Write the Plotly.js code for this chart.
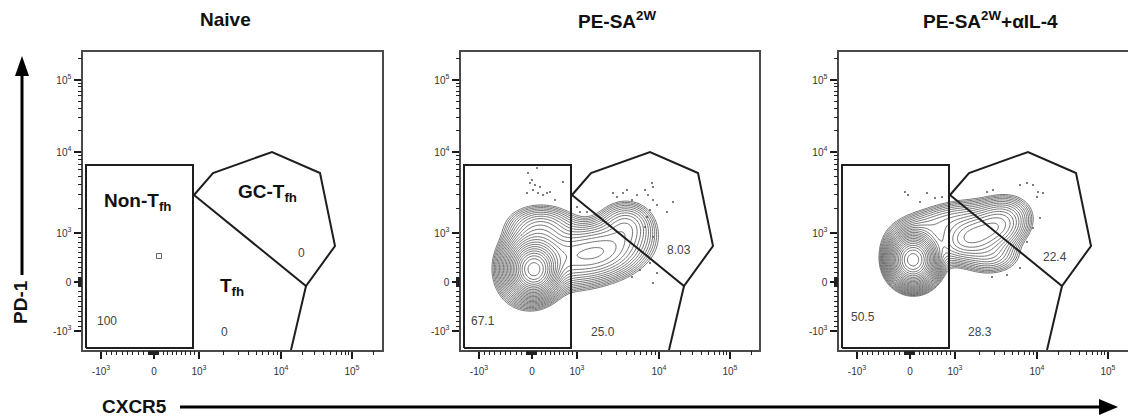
<!DOCTYPE html>
<html><head><meta charset="utf-8">
<script src="https://cdn.plot.ly/plotly-3.0.1.min.js"></script>
<style>html,body{margin:0;padding:0;background:#fff}#chart{width:1128px;height:419px}</style>
</head><body><div id="chart"></div><script>
// ---------- text ----------
const panelTitles = ['Naive', 'PE-SA<sup>2W</sup>', 'PE-SA<sup>2W</sup>+αIL-4'];
const gateNames = ['Non-T<sub>fh</sub>', 'GC-T<sub>fh</sub>', 'T<sub>fh</sub>'];
const nonTfhPct = ['100', '67.1', '50.5'];
const tfhPct = ['0', '25.0', '28.3'];
const gcTfhPct = ['0', '8.03', '22.4'];
const xAxisName = 'CXCR5';
const yAxisName = 'PD-1';

// ---------- biexponential axis (raw value -> scale units) ----------
const majorTickValues = [-1000, 0, 1000, 10000, 100000];
const majorTickText = ['-10<sup>3</sup>', '0', '10<sup>3</sup>', '10<sup>4</sup>', '10<sup>5</sup>'];
const xTickScale = [18, 71, 116, 198, 269];
const yTickScale = [19, 68, 117, 198, 270];
const minorTickValues = [-900,-800,-700,-600,-500,-400,-300,-200,-100,-90,-80,-70,-60,-50,-40,-30,-20,-10,
  10,20,30,40,50,60,70,80,90,100,200,300,400,500,600,700,800,900,
  2000,3000,4000,5000,6000,7000,8000,9000,20000,30000,40000,50000,60000,70000,80000,90000,200000];

// ---------- gates (scale units) ----------
const nonTfhGateX = [3, 110, 110, 3, 3];
const nonTfhGateY = [2, 2, 185, 185, 2];
const gcTfhGateX = [111, 130, 189, 237, 252, 223, 111];
const gcTfhGateY = [155, 177, 198, 177, 104, 64, 155];
const tfhGateX = [223, 208];
const tfhGateY = [64, 0];

// ---------- events ----------
const naiveEventX = [76];
const naiveEventY = [94];

// PE-SA2W populations (scale units): centre, spread, correlation, relative peak
const pop2Mx = [73, 72, 138, 165, 80, 105];
const pop2My = [80, 86, 98, 125, 124, 95];
const pop2Sx = [10, 15, 24, 14, 18, 18];
const pop2Sy = [11, 17, 15, 12, 11, 16];
const pop2Rho = [0, 0.1, 0.25, 0, 0, 0];
const pop2W = [1, 0.3, 0.12, 0.05, 0.04, 0.05];
const out2X = [67,69,72,76,77,79,86,89,102,66,71,74,82,94,152,156,162,171,176,184,187,191,192,192,196,189,186,184,192,189,196,192,212,206,166,119,126,116,171,179];
const out2Y = [177,167,160,182,157,163,157,158,168,157,170,165,155,150,157,153,157,150,155,160,155,167,163,150,145,140,133,123,113,87,77,67,148,138,160,138,138,143,73,80];

// PE-SA2W + aIL-4 populations
const pop3Mx = [74, 76, 131, 160, 105, 150];
const pop3My = [90, 95, 113, 125, 128, 95];
const pop3Sx = [10, 14, 17, 15, 26, 16];
const pop3Sy = [11, 15, 12, 13, 12, 10];
const pop3Rho = [0, 0, 0.3, 0.2, 0.5, 0];
const pop3W = [1, 0.08, 0.1, 0.08, 0.03, 0.03];
const out3X = [69,66,88,96,103,148,154,181,188,194,199,204,198,201,194,188,181,168,153,81];
const out3Y = [155,158,157,152,153,158,160,165,167,165,158,157,153,132,122,108,82,75,73,148];

// ---------- helpers ----------
function toScale(v, a) {
  if (v <= 0) return a[1] + (v / 1000) * (a[1] - a[0]);
  if (v <= 1000) return a[1] + (v / 1000) * (a[2] - a[1]);
  const l = Math.log10(v);
  if (l <= 4) return a[2] + (l - 3) * (a[3] - a[2]);
  return a[3] + (l - 4) * (a[4] - a[3]);
}
function densityGrid(mx, my, sx, sy, rho, w) {
  const xs = [], ys = [];
  for (let x = 0; x <= 300; x += 1.5) xs.push(x);
  for (let y = 0; y <= 300; y += 1.5) ys.push(y);
  let m = 0;
  const z = ys.map(y => xs.map(x => {
    let s = 0;
    for (let i = 0; i < mx.length; i++) {
      const dx = (x - mx[i]) / sx[i], dy = (y - my[i]) / sy[i], r = rho[i];
      s += w[i] * Math.exp(-(dx * dx - 2 * r * dx * dy + dy * dy) / (2 * (1 - r * r)));
    }
    if (s > m) m = s;
    return s;
  }));
  return {xs, ys, z: z.map(row => row.map(v => Math.log10(Math.max(v / m, 1e-9))))};
}

const W = 1128, PLOT_T = 52, PLOT_B = 350;
const px = v => v / W;
const py = v => (PLOT_B - v) / (PLOT_B - PLOT_T);
const fontFam = 'Liberation Sans, Arial, Helvetica, sans-serif';
const gateLine = {color: '#1e1e1e', width: 2};

const domains = [[83 / W, 382 / W], [461 / W, 759 / W], [839 / W, 1]];
const xRanges = [[0, 299], [0, 298], [0, 289]];
const yRange = [0, 298];

const traces = [];
const layout = {
  width: 1128, height: 419, margin: {l: 0, r: 0, t: PLOT_T, b: 419 - PLOT_B},
  paper_bgcolor: '#fff', plot_bgcolor: '#fff', showlegend: false,
  font: {family: fontFam, color: '#222'},
  annotations: [], shapes: []
};

for (let p = 0; p < 3; p++) {
  const xa = p === 0 ? 'x' : 'x' + (p + 1);
  const ya = p === 0 ? 'y' : 'y' + (p + 1);
  const xKey = p === 0 ? 'xaxis' : 'xaxis' + (p + 1);
  const yKey = p === 0 ? 'yaxis' : 'yaxis' + (p + 1);
  const common = {
    showgrid: false, zeroline: false, showline: true, linecolor: '#4a4a4a', linewidth: 1.6,
    ticks: 'outside', ticklen: 7, tickwidth: 1.6, tickcolor: '#1a1a1a',
    tickmode: 'array', ticktext: majorTickText,
    tickfont: {size: 10, color: '#333', family: fontFam},
    fixedrange: true
  };
  layout[xKey] = Object.assign({}, common, {
    domain: domains[p], range: xRanges[p], anchor: ya, mirror: true, ticklabelstandoff: 4,
    tickvals: majorTickValues.map(v => toScale(v, xTickScale))
  });
  layout[yKey] = Object.assign({}, common, {
    domain: [0, 1], range: yRange, anchor: xa, mirror: p < 2, ticklabelstandoff: 1,
    tickvals: majorTickValues.map(v => toScale(v, yTickScale))
  });
  // minor tick overlay axes
  const mxKey = 'xaxis' + (p + 4), myKey = 'yaxis' + (p + 4);
  const minorCommon = {showgrid: false, zeroline: false, showline: false, showticklabels: false,
    ticks: 'outside', ticklen: 4, tickwidth: 1, tickcolor: '#222', tickmode: 'array', fixedrange: true};
  layout[mxKey] = Object.assign({}, minorCommon, {overlaying: xa, anchor: ya, side: 'bottom', domain: domains[p], range: xRanges[p],
    tickvals: minorTickValues.map(v => toScale(v, xTickScale))});
  layout[myKey] = Object.assign({}, minorCommon, {overlaying: ya, anchor: xa, side: 'left', domain: [0, 1], range: yRange,
    tickvals: minorTickValues.map(v => toScale(v, yTickScale))});
  traces.push({type: 'scatter', mode: 'markers', x: [], y: [], xaxis: 'x' + (p + 4), yaxis: 'y' + (p + 4), hoverinfo: 'skip'});

  // events
  if (p === 0) {
    traces.push({type: 'scatter', mode: 'markers', x: naiveEventX, y: naiveEventY, xaxis: xa, yaxis: ya,
      marker: {symbol: 'square-open', size: 5, color: '#666', line: {width: 1}}, hoverinfo: 'skip'});
  } else {
    const g = p === 1 ? densityGrid(pop2Mx, pop2My, pop2Sx, pop2Sy, pop2Rho, pop2W)
                      : densityGrid(pop3Mx, pop3My, pop3Sx, pop3Sy, pop3Rho, pop3W);
    traces.push({type: 'contour', x: g.xs, y: g.ys, z: g.z, xaxis: xa, yaxis: ya, showscale: false,
      contours: {coloring: 'none', start: -2.25, end: -0.05, size: 0.095},
      line: {color: '#3a3a3a', width: 0.7, smoothing: 1}, hoverinfo: 'skip'});
    traces.push({type: 'scatter', mode: 'markers', x: p === 1 ? out2X : out3X, y: p === 1 ? out2Y : out3Y,
      xaxis: xa, yaxis: ya, marker: {size: 2, color: '#555'}, hoverinfo: 'skip'});
  }
  // gates
  traces.push({type: 'scatter', mode: 'lines', x: nonTfhGateX, y: nonTfhGateY, xaxis: xa, yaxis: ya, line: gateLine, hoverinfo: 'skip'});
  traces.push({type: 'scatter', mode: 'lines', x: gcTfhGateX, y: gcTfhGateY, xaxis: xa, yaxis: ya, line: gateLine, hoverinfo: 'skip'});
  traces.push({type: 'scatter', mode: 'lines', x: tfhGateX, y: tfhGateY, xaxis: xa, yaxis: ya, line: gateLine, hoverinfo: 'skip'});

  // title
  const cx = [225, 617, 990][p];
  layout.annotations.push({xref: 'paper', yref: 'paper', x: px(cx), y: py(20), text: '<b>' + panelTitles[p] + '</b>',
    showarrow: false, font: {size: 19, color: '#111'}, xanchor: 'center', yanchor: 'middle'});

  // percentages
  const pctPos = [
    [[24, 29], [141, 18], [218, 97]],
    [[22, 29], [142, 18], [218, 100]],
    [[24, 33], [141, 18], [216, 93]]
  ][p];
  [nonTfhPct[p], tfhPct[p], gcTfhPct[p]].forEach((t, i) => {
    layout.annotations.push({xref: xa, yref: ya, x: pctPos[i][0], y: pctPos[i][1], text: t, showarrow: false,
      font: {size: 12, color: '#444'}, xanchor: 'center', yanchor: 'middle'});
  });
}

// gate names on the naive panel
const namePos = [[54, 148], [184, 157], [149, 63]];
gateNames.forEach((t, i) => {
  layout.annotations.push({xref: 'x', yref: 'y', x: namePos[i][0], y: namePos[i][1], text: '<b>' + t + '</b>',
    showarrow: false, font: {size: 19, color: '#111'}, xanchor: 'center', yanchor: 'middle'});
});

// axis names + arrows
layout.annotations.push({xref: 'paper', yref: 'paper', x: px(20), y: py(302), text: '<b>' + yAxisName + '</b>', textangle: -90,
  showarrow: false, font: {size: 19, color: '#111'}, xanchor: 'center', yanchor: 'middle'});
layout.annotations.push({xref: 'paper', yref: 'paper', x: px(134), y: py(406), text: '<b>' + xAxisName + '</b>',
  showarrow: false, font: {size: 19, color: '#111'}, xanchor: 'center', yanchor: 'middle'});
layout.shapes.push({type: 'line', xref: 'paper', yref: 'paper', x0: px(22), x1: px(22), y0: py(275), y1: py(72), line: {color: '#000', width: 3}});
layout.shapes.push({type: 'path', xref: 'paper', yref: 'paper', fillcolor: '#000', line: {width: 0},
  path: `M ${px(22)} ${py(56)} L ${px(15)} ${py(76)} L ${px(29)} ${py(76)} Z`});
layout.shapes.push({type: 'line', xref: 'paper', yref: 'paper', x0: px(180), x1: px(1102), y0: py(407), y1: py(407), line: {color: '#000', width: 3}});
layout.shapes.push({type: 'path', xref: 'paper', yref: 'paper', fillcolor: '#000', line: {width: 0},
  path: `M ${px(1118)} ${py(407)} L ${px(1099)} ${py(399)} L ${px(1099)} ${py(415)} Z`});

Plotly.newPlot('chart', traces, layout, {displayModeBar: false, staticPlot: true});
</script></body></html>
